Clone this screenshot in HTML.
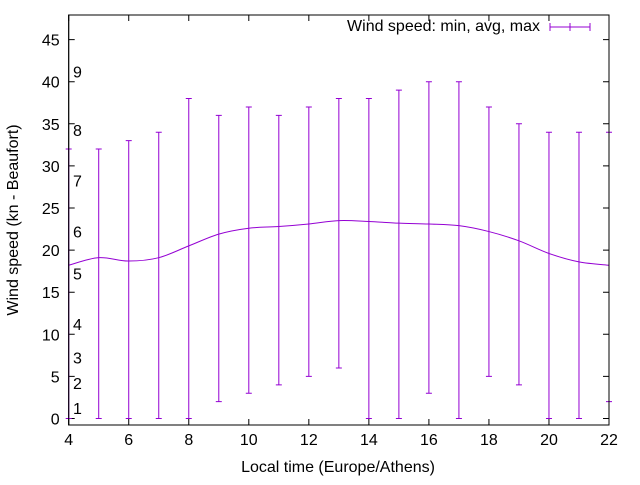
<!DOCTYPE html>
<html><head><meta charset="utf-8"><style>
body{margin:0;background:#fff}
svg text{font-family:"Liberation Sans",sans-serif;font-size:16px;fill:#000}
</style></head><body>
<svg id="c" width="640" height="480" viewBox="0 0 640 480">
<g id="axes"></g>
<g id="marks"></g>
<text x="338" y="472" text-anchor="middle">Local time (Europe/Athens)</text>
<text transform="translate(18,220) rotate(-90)" text-anchor="middle">Wind speed (kn - Beaufort)</text>
<g>
<text x="540" y="31" text-anchor="end">Wind speed: min, avg, max</text>
<g stroke="#9400d3" stroke-width="1"><line x1="550" y1="27" x2="590" y2="27"/><line x1="550" y1="23" x2="550" y2="31"/><line x1="590" y1="23" x2="590" y2="31"/><line x1="570" y1="23" x2="570" y2="31"/></g>
</g>
</svg>
<script>
const hours=[4,5,6,7,8,9,10,11,12,13,14,15,16,17,18,19,20,21,22];
const avgSpeed=[18.2,19.1,18.7,19.1,20.5,21.9,22.6,22.8,23.1,23.5,23.4,23.2,23.1,22.9,22.2,21.1,19.6,18.6,18.2];
const minSpeed=[0,0,0,0,0,2,3,4,5,6,0,0,3,0,5,4,0,0,2];
const maxSpeed=[32,32,33,34,38,36,37,36,37,38,38,39,40,40,37,35,34,34,34];
const yTicks=[0,5,10,15,20,25,30,35,40,45];
const xTicks=[4,6,8,10,12,14,16,18,20,22];
const beaufortLabels=["1","2","3","4","5","6","7","8","9"];
const beaufortKn=[1,4,7,11,17,22,28,34,41];
const L=68.7,R=609,T=15,B=425;
const X=h=>L+(h-4)*(R-L)/18;
const Y=v=>418.5-v*8.42;
const NS="http://www.w3.org/2000/svg";
function mk(tag,parent,attrs){const e=document.createElementNS(NS,tag);for(const k in attrs)e.setAttribute(k,attrs[k]);parent.appendChild(e);return e;}
const ax=document.getElementById('axes'),mg=document.getElementById('marks');
const fr=mk('rect',ax,{x:L,y:T,width:R-L,height:B-T,fill:'none',stroke:'#000','stroke-width':1});


yTicks.forEach(v=>{
 const y=Y(v);
 const t=mk('path',ax,{d:`M${L} ${y}h6M${R} ${y}h-6`,stroke:'#000'});
 
 
 const tx=mk('text',ax,{x:L-9,y:y+6,'text-anchor':'end'});tx.textContent=v;
 
 
});
xTicks.forEach(h=>{
 const x=X(h);
 const t=mk('path',ax,{d:`M${x} ${B}v-6M${x} ${T}v6`,stroke:'#000'});
 
 
 const tx=mk('text',ax,{x:x,y:B+20,'text-anchor':'middle'});tx.textContent=h;
 
 
});
beaufortLabels.forEach((s,i)=>{
 const tx=mk('text',ax,{x:73,y:Y(beaufortKn[i])+4});tx.textContent=s;
 
 
});
const C='#9400d3';
hours.forEach((h,i)=>{
 const x=X(h),y1=Y(minSpeed[i]),y2=Y(maxSpeed[i]);
 const g=mk('path',mg,{d:`M${x} ${y1}V${y2}M${x-3} ${y1}h6M${x-3} ${y2}h6`,stroke:C,'stroke-width':1,fill:'none'});
 
 
});
const pts=hours.map((h,i)=>[X(h),Y(avgSpeed[i])]);
let d=`M${pts[0][0]} ${pts[0][1]}`;
for(let i=0;i<pts.length-1;i++){
 const p0=pts[Math.max(0,i-1)],p1=pts[i],p2=pts[i+1],p3=pts[Math.min(pts.length-1,i+2)];
 const c1=[p1[0]+(p2[0]-p0[0])/6,p1[1]+(p2[1]-p0[1])/6],c2=[p2[0]-(p3[0]-p1[0])/6,p2[1]-(p3[1]-p1[1])/6];
 d+=`C${c1[0]} ${c1[1]} ${c2[0]} ${c2[1]} ${p2[0]} ${p2[1]}`;
}
const ln=mk('path',mg,{d:d,stroke:C,'stroke-width':1,fill:'none'});


// redraw frame edges on top so edge bars sit under axis
const fr2=mk('rect',mg,{x:L,y:T,width:R-L,height:B-T,fill:'none',stroke:'#000','stroke-width':1});


</script>
</body></html>
